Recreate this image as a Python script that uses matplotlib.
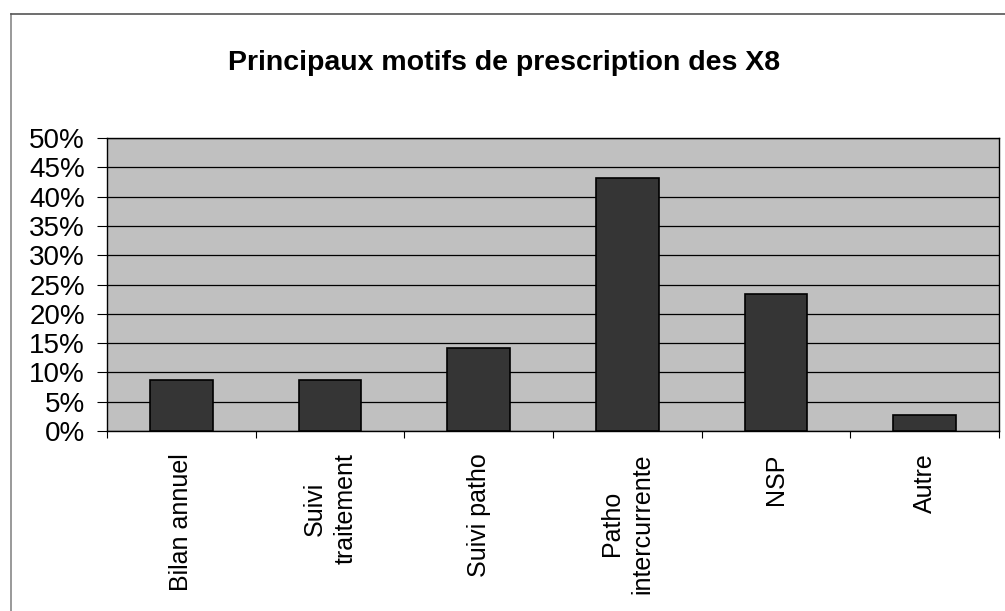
import matplotlib
matplotlib.use("Agg")
import matplotlib.pyplot as plt
from matplotlib.lines import Line2D
from matplotlib.ticker import FuncFormatter, MultipleLocator

plt.rcParams["font.family"] = ["Liberation Sans", "DejaVu Sans"]

categories = [
    "Bilan annuel",
    "Suivi\ntraitement",
    "Suivi patho",
    "Patho\nintercurrente",
    "NSP",
    "Autre",
]
values = [8.7, 8.7, 14.2, 43.2, 23.4, 2.8]  # percent

fig = plt.figure(figsize=(10.05, 6.11), dpi=100)
ax = fig.add_axes([0.1065, 0.2946, 0.8875, 0.4795])

x = [i + 0.5 for i in range(len(categories))]
ax.set_facecolor("#c0c0c0")
ax.bar(x, values, width=0.42, color="#353535", edgecolor="black", linewidth=1.2, zorder=3)

ax.set_xlim(0, len(categories))
ax.set_ylim(0, 50)
ax.yaxis.set_major_locator(MultipleLocator(5))
ax.yaxis.set_major_formatter(FuncFormatter(lambda v, _: f"{v:.0f}%"))
ax.grid(axis="y", color="black", linewidth=0.9, zorder=1)
ax.set_axisbelow(True)

ax.set_xticks(x)
ax.set_xticklabels(categories, rotation=90, ha="center", va="top",
                   multialignment="center", fontsize=18, linespacing=1.35)
ax.set_xticks(range(len(categories) + 1), minor=True)
ax.tick_params(axis="x", which="major", length=0, pad=16)
ax.tick_params(axis="x", which="minor", length=5, width=0.8, direction="out")
ax.tick_params(axis="y", which="major", length=7, width=0.8, pad=9, labelsize=20)

for side in ["left", "right", "top", "bottom"]:
    ax.spines[side].set_color("black")
    ax.spines[side].set_linewidth(1.0)

fig.text(0.5015, 0.897, "Principaux motifs de prescription des X8",
         ha="center", va="center", fontsize=20.5, fontweight="bold")

# outer chart frame (only left and top edges visible)
fig.add_artist(Line2D([11 / 1005, 11 / 1005], [1 - 14 / 611, 0], transform=fig.transFigure,
                      color="#888888", linewidth=1.2))
fig.add_artist(Line2D([11 / 1005, 1], [1 - 14 / 611, 1 - 14 / 611], transform=fig.transFigure,
                      color="#555555", linewidth=1.2))

fig.savefig("out.png", dpi=100)
plt.close(fig)
